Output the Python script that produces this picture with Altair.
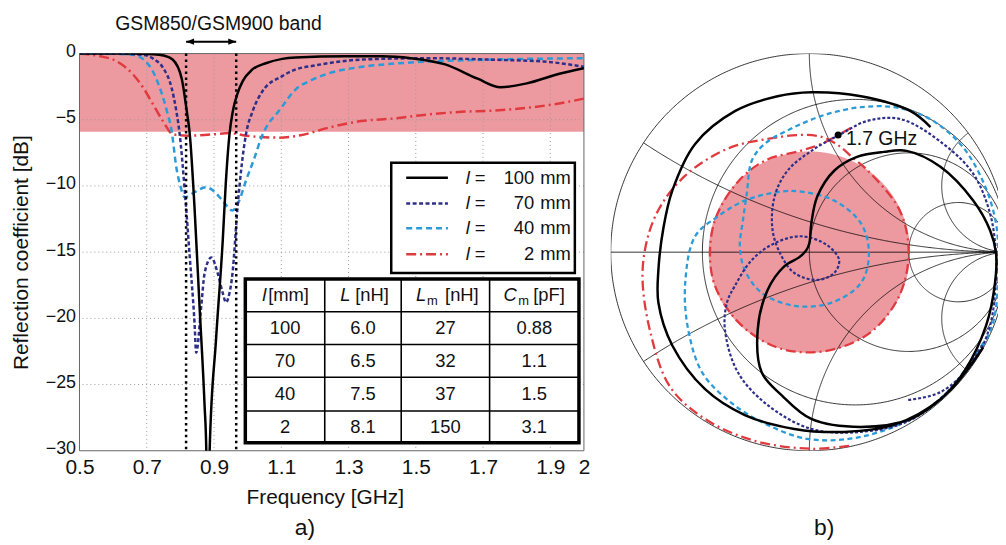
import altair as alt
import numpy as np
import pandas as pd

FONT = "Liberation Sans"
PINK = "#ec9aa0"
GRIDC = "#9a9a9a"
NAVY = "#2e2f88"
BLUE = "#2a9bd8"
RED = "#e03a3e"

# ---------------- panel a): reflection coefficient [dB] vs frequency [GHz] ----------------
f_100 = [0.50, 0.65, 0.72, 0.75, 0.777, 0.804, 0.819, 0.828, 0.842, 0.857, 0.872, 0.877, 0.882, 0.887,
         0.906, 0.926, 0.935, 0.946, 0.956, 0.97, 0.985, 1.014, 1.054, 1.103, 1.143, 1.29, 1.40, 1.486,
         1.585, 1.684, 1.752, 1.83, 1.93, 2.0]
s_100 = [0.0, 0.0, -0.05, -0.15, -0.45, -1.9, -4.35, -6.1, -11.6, -19.1, -26.6, -29.9, -40.0, -30.0,
         -21.6, -14.1, -9.8, -6.1, -4.35, -3.0, -2.1, -1.2, -0.73, -0.4, -0.3, -0.2, -0.2, -0.35,
         -0.8, -1.9, -2.55, -2.25, -1.5, -1.1]

f_70 = [0.50, 0.60, 0.69, 0.72, 0.749, 0.774, 0.788, 0.798, 0.813, 0.828, 0.842, 0.847, 0.862, 0.872,
        0.892, 0.911, 0.925, 0.936, 0.945, 0.955, 0.97, 0.995, 1.015, 1.044, 1.103, 1.143, 1.20, 1.26,
        1.34, 1.536, 1.733, 1.88, 1.95, 2.0]
s_70 = [0.0, 0.0, -0.1, -0.4, -1.1, -2.6, -4.35, -6.1, -10.35, -15.4, -20.3, -22.6, -19.1, -16.6,
        -15.4, -16.6, -18.0, -18.8, -18.2, -16.6, -11.6, -6.1, -4.35, -2.85, -1.7, -1.2, -0.9, -0.65,
        -0.45, -0.35, -0.47, -0.6, -0.8, -1.0]

f_40 = [0.50, 0.60, 0.66, 0.71, 0.739, 0.76, 0.774, 0.788, 0.80, 0.813, 0.84, 0.877, 0.90, 0.925,
        0.955, 0.975, 0.995, 1.02, 1.04, 1.10, 1.143, 1.19, 1.24, 1.34, 1.44, 1.54, 1.73, 2.0]
s_40 = [0.0, -0.02, -0.1, -1.0, -2.6, -4.35, -5.85, -8.6, -10.0, -10.85, -10.5, -10.1, -10.4, -11.1,
        -11.85, -11.1, -9.6, -7.9, -6.4, -4.1, -2.7, -2.0, -1.5, -1.0, -0.75, -0.6, -0.45, -0.35]

f_2 = [0.50, 0.562, 0.612, 0.66, 0.69, 0.719, 0.748, 0.778, 0.82, 0.90, 0.946, 0.995, 1.093, 1.161,
       1.24, 1.338, 1.437, 1.536, 1.635, 1.734, 1.83, 1.93, 2.0]
s_2 = [0.0, -0.2, -0.6, -1.6, -2.6, -3.85, -5.1, -6.1, -6.2, -6.1, -6.0, -6.2, -6.35, -6.15,
       -5.6, -5.1, -4.9, -4.6, -4.4, -4.3, -4.1, -3.75, -3.4]

X_TICKS = [0.5, 0.7, 0.9, 1.1, 1.3, 1.5, 1.7, 1.9, 2.0]
Y_TICKS = [0, -5, -10, -15, -20, -25, -30]
SHADE_DB = -5.9
BAND = [0.817, 0.966]
BAND_LABEL = "GSM850/GSM900 band"

LENGTHS = ["100", "70", "40", "2"]
TAB_L = ["100", "70", "40", "2"]
TAB_IND = ["6.0", "6.5", "7.5", "8.1"]
TAB_LM = ["27", "32", "37", "150"]
TAB_CM = ["0.88", "1.1", "1.5", "3.1"]

# ---------------- panel b): Smith chart, reflection coefficient (Re, Im) ----------------
sm100_re = [0.875, 0.70, 0.51, 0.26, 0.01, -0.14, -0.24, -0.26, -0.21, -0.125, -0.05, -0.015, 0.0, 0.01,
            0.04, 0.125, 0.24, 0.375, 0.49, 0.66, 0.825, 0.91, 0.94, 0.935, 0.89, 0.78, 0.66, 0.425,
            0.175, -0.075, -0.325, -0.525, -0.69, -0.76, -0.76, -0.735, -0.69, -0.575, -0.375, -0.16,
            0.01, 0.26, 0.51, 0.61]
sm100_im = [-0.48, -0.705, -0.84, -0.88, -0.84, -0.72, -0.605, -0.39, -0.19, -0.07, -0.025, 0.01, 0.045, 0.145,
            0.28, 0.41, 0.48, 0.505, 0.51, 0.43, 0.26, 0.11, -0.005, -0.155, -0.37, -0.6, -0.74, -0.87,
            -0.905, -0.89, -0.82, -0.69, -0.47, -0.255, -0.09, 0.12, 0.31, 0.545, 0.71, 0.785,
            0.805, 0.785, 0.71, 0.63]

sm70_re = [0.87, 0.71, 0.50, 0.26, 0.01, -0.21, -0.36, -0.425, -0.415, -0.375, -0.29, -0.175, -0.04, 0.09,
           0.15, 0.125, 0.04, -0.075, -0.14, -0.185, -0.175, -0.11, 0.01, 0.16, 0.29, 0.46, 0.675, 0.825,
           0.91, 0.94, 0.94, 0.91, 0.825, 0.66, 0.49]
sm70_im = [-0.47, -0.69, -0.85, -0.905, -0.89, -0.77, -0.605, -0.39, -0.255, -0.17, -0.04, 0.045, 0.08, 0.035,
           -0.04, -0.105, -0.14, -0.105, -0.02, 0.11, 0.28, 0.41, 0.51, 0.595, 0.66, 0.67, 0.545, 0.395,
           0.195, -0.005, -0.12, -0.37, -0.555, -0.705, -0.745]

sm40_re = [0.90, 0.70, 0.55, 0.26, -0.01, -0.24, -0.41, -0.54, -0.61, -0.625, -0.575, -0.46, -0.325, -0.14,
           -0.04, 0.125, 0.26, 0.30, 0.26, 0.11, -0.075, -0.24, -0.325, -0.35, -0.335, -0.315, -0.29, -0.225,
           -0.075, 0.09, 0.26, 0.425, 0.59, 0.76, 0.875, 0.94, 0.95, 0.925, 0.82, 0.70, 0.55, 0.41]
sm40_im = [-0.42, -0.70, -0.82, -0.93, -0.94, -0.855, -0.745, -0.605, -0.39, -0.155, 0.08, 0.18, 0.26, 0.305,
           0.305, 0.26, 0.145, -0.005, -0.155, -0.255, -0.27, -0.205, -0.09, 0.03, 0.155, 0.295, 0.46, 0.545,
           0.63, 0.695, 0.73, 0.73, 0.68, 0.545, 0.355, 0.145, -0.08, -0.355, -0.56, -0.70, -0.82, -0.88]

sm2_re = [0.20, 0.01, -0.275, -0.525, -0.70, -0.80, -0.84, -0.80, -0.725, -0.625, -0.51, -0.375, -0.21, -0.05,
          0.065, 0.15, 0.225, 0.29, 0.455, 0.50, 0.455, 0.325, 0.17, 0.0, -0.175, -0.355, -0.475, -0.50,
          -0.47, -0.355, -0.215, -0.045, 0.06, 0.145, 0.225]
sm2_im = [-0.975, -0.99, -0.95, -0.84, -0.68, -0.405, -0.105, 0.12, 0.27, 0.385, 0.47, 0.535, 0.57, 0.59,
          0.58, 0.535, 0.47, 0.415, 0.21, 0.0, -0.215, -0.39, -0.475, -0.505, -0.475, -0.355, -0.17, 0.0,
          0.175, 0.36, 0.465, 0.51, 0.545, 0.59, 0.635]

MARK_RE, MARK_IM = 0.145, 0.59
MARK_LABEL = "1.7 GHz"

R_CIRCLES = [0.0, 0.3, 1.0, 3.0]
X_ARCS = [0.3, 1.0, 3.0, -0.3, -1.0, -3.0]

# ---------------- layout of inset legend / table (in data units of panel a) ----------------
LEG_BOX = dict(f=1.427, f2=1.973, s=-8.25, s2=-16.58)
LEG_ROWS = [-9.375, -11.325, -13.2, -15.15]
LEG_SAMPLE = (1.4715, 1.5955)
LEG_COLS = dict(l=1.6486, eq=1.675, num=1.8524, mm=1.870)
TAB_XE = [0.9931, 1.2293, 1.4567, 1.7195, 1.9852]
TAB_YE = [-17.025, -19.5, -21.975, -24.45, -27.0, -29.4]
HEAD_SYM_X = [1.0433, 1.2757, 1.5010, 1.7610]
HEAD_UNIT_X = [1.061, 1.320, 1.5870, 1.8490]
HEAD_SUB_X = [1.5330, 1.8050]

STYLES = {
    "100": dict(color="black", dash=None, width=2.5),
    "70": dict(color=NAVY, dash=[4, 2.5], width=2.5),
    "40": dict(color=BLUE, dash=[6, 4], width=2.5),
    "2": dict(color=RED, dash=[10, 4, 2, 4], width=2.5),
}

XS = alt.Scale(domain=[0.5, 2.0], nice=False, zero=False)
YS = alt.Scale(domain=[-30, 0], nice=False, zero=False)


def X(field="f"):
    return alt.X(f"{field}:Q", scale=XS)


def Y(field="s"):
    return alt.Y(f"{field}:Q", scale=YS)


def line_kwargs(st):
    kw = dict(color=st["color"], strokeWidth=st["width"], strokeCap="butt")
    if st["dash"]:
        kw["strokeDash"] = st["dash"]
    return kw


x_axis = alt.Axis(values=X_TICKS, labelExpr="datum.value == 2 ? '2' : format(datum.value, '.1f')",
                  labelFontSize=21, labelFont=FONT, labelColor="#111111", labelPadding=6,
                  ticks=False, domain=False, grid=False, labelFlush=False, labelOverlap=False,
                  title="Frequency [GHz]", titleFontSize=21, titleFont=FONT, titleFontWeight="normal",
                  titleColor="#111111", titleX=247, titleY=53, titleBaseline="alphabetic", titleAlign="center")
y_axis = alt.Axis(values=Y_TICKS, labelFontSize=18, labelFont=FONT, labelColor="#111111", labelPadding=4,
                  labelOffset=-2, ticks=False, domain=False, grid=False, labelOverlap=False,
                  title="Reflection coefficient [dB]", titleFontSize=21, titleFont=FONT,
                  titleFontWeight="normal", titleColor="#111111", titleX=-58, titleY=200,
                  titleAngle=270, titleAlign="center", titleBaseline="middle")

layers = []
# shaded -6 dB region
layers.append(alt.Chart(pd.DataFrame({"f": [0.5], "f2": [2.0], "s": [0.0], "s2": [SHADE_DB]}))
              .mark_rect(color=PINK)
              .encode(x=alt.X("f:Q", scale=XS, axis=x_axis), x2="f2:Q",
                      y=alt.Y("s:Q", scale=YS, axis=y_axis), y2="s2:Q"))
# dotted grid
layers.append(alt.Chart(pd.DataFrame({"f": X_TICKS[1:-1]}))
              .mark_rule(color=GRIDC, strokeDash=[1, 3], strokeWidth=1).encode(x=X()))
layers.append(alt.Chart(pd.DataFrame({"s": Y_TICKS[1:-1]}))
              .mark_rule(color=GRIDC, strokeDash=[1, 3], strokeWidth=1).encode(y=Y()))
# frame
layers.append(alt.Chart(pd.DataFrame({"f": [0.5], "f2": [2.0], "s": [0.0], "s2": [-30.0]}))
              .mark_rect(fillOpacity=0, stroke="#666666", strokeWidth=1)
              .encode(x=X(), x2="f2:Q", y=Y(), y2="s2:Q"))
# curves
for key, f, s in [("2", f_2, s_2), ("40", f_40, s_40), ("70", f_70, s_70), ("100", f_100, s_100)]:
    layers.append(alt.Chart(pd.DataFrame({"f": f, "s": s}))
                  .mark_line(clip=True, interpolate="monotone", **line_kwargs(STYLES[key]))
                  .encode(x=X(), y=Y()))
# band limits
layers.append(alt.Chart(pd.DataFrame({"f": BAND}))
              .mark_rule(color="black", strokeDash=[2.5, 3.5], strokeWidth=2.5).encode(x=X()))
# band annotation (double arrow + label)
layers.append(alt.Chart(pd.DataFrame({"f": [BAND[0]], "f2": [BAND[1]]}))
              .mark_rule(color="black", strokeWidth=2).encode(x=X(), x2="f2:Q", y=alt.value(-12)))
layers.append(alt.Chart(pd.DataFrame({"f": [BAND[0]]}))
              .mark_point(shape="M 0 0 L 2 -0.8 L 2 0.8 Z", size=64, filled=True, color="black", opacity=1)
              .encode(x=X(), y=alt.value(-12)))
layers.append(alt.Chart(pd.DataFrame({"f": [BAND[1]]}))
              .mark_point(shape="M 0 0 L -2 -0.8 L -2 0.8 Z", size=64, filled=True, color="black", opacity=1)
              .encode(x=X(), y=alt.value(-12)))
layers.append(alt.Chart(pd.DataFrame({"t": [BAND_LABEL]}))
              .mark_text(font=FONT, fontSize=19.5, align="center", baseline="middle", color="#111111")
              .encode(x=alt.value(140), y=alt.value(-30), text="t:N"))
# panel label
layers.append(alt.Chart(pd.DataFrame({"t": ["a)"]}))
              .mark_text(font=FONT, fontSize=23, align="center", baseline="alphabetic", color="#111111")
              .encode(x=alt.value(227), y=alt.value(485), text="t:N"))

# legend box
layers.append(alt.Chart(pd.DataFrame([LEG_BOX]))
              .mark_rect(fill="white", stroke="black", strokeWidth=2.5)
              .encode(x=X(), x2="f2:Q", y=Y(), y2="s2:Q"))
for key, row in zip(LENGTHS, LEG_ROWS):
    layers.append(alt.Chart(pd.DataFrame({"f": [LEG_SAMPLE[0]], "f2": [LEG_SAMPLE[1]], "s": [row]}))
                  .mark_rule(**line_kwargs(STYLES[key])).encode(x=X(), x2="f2:Q", y=Y()))


def text_layer(f, s, t, size=18.5, align="center", style="normal", dy=0):
    return (alt.Chart(pd.DataFrame({"f": f, "s": s, "t": t}))
            .mark_text(font=FONT, fontSize=size, align=align, baseline="middle", fontStyle=style,
                       dy=dy, color="#111111")
            .encode(x=X(), y=Y(), text="t:N"))


n = len(LENGTHS)
layers.append(text_layer([LEG_COLS["l"]] * n, LEG_ROWS, ["l"] * n, align="left", style="italic"))
layers.append(text_layer([LEG_COLS["eq"]] * n, LEG_ROWS, ["="] * n, align="left"))
layers.append(text_layer([LEG_COLS["num"]] * n, LEG_ROWS, LENGTHS, align="right"))
layers.append(text_layer([LEG_COLS["mm"]] * n, LEG_ROWS, ["mm"] * n, align="left"))

# table
layers.append(alt.Chart(pd.DataFrame({"f": [TAB_XE[0]], "f2": [TAB_XE[-1]], "s": [TAB_YE[0]], "s2": [TAB_YE[-1]]}))
              .mark_rect(fill="white", stroke="black", strokeWidth=3.5)
              .encode(x=X(), x2="f2:Q", y=Y(), y2="s2:Q"))
layers.append(alt.Chart(pd.DataFrame({"f": TAB_XE[1:-1], "s": [TAB_YE[0]] * 3, "s2": [TAB_YE[-1]] * 3}))
              .mark_rule(color="black", strokeWidth=1.6).encode(x=X(), y=Y(), y2="s2:Q"))
layers.append(alt.Chart(pd.DataFrame({"s": TAB_YE[1:-1], "f": [TAB_XE[0]] * 4, "f2": [TAB_XE[-1]] * 4}))
              .mark_rule(color="black", strokeWidth=1.6).encode(y=Y(), x=X(), x2="f2:Q"))
col_c = [(a + b) / 2 for a, b in zip(TAB_XE[:-1], TAB_XE[1:])]
row_c = [(a + b) / 2 for a, b in zip(TAB_YE[:-1], TAB_YE[1:])]
cells_f, cells_s, cells_t = [], [], []
for ci, col in enumerate([TAB_L, TAB_IND, TAB_LM, TAB_CM]):
    for ri, v in enumerate(col):
        cells_f.append(col_c[ci])
        cells_s.append(row_c[ri + 1])
        cells_t.append(v)
layers.append(text_layer(cells_f, cells_s, cells_t))
hy = row_c[0]
layers.append(text_layer(HEAD_SYM_X, [hy] * 4, ["l", "L", "L", "C"], align="left", style="italic"))
layers.append(text_layer(HEAD_UNIT_X, [hy] * 4, ["[mm]", "[nH]", "[nH]", "[pF]"], align="left"))
layers.append(text_layer(HEAD_SUB_X, [hy] * 2, ["m", "m"], size=13, align="left", dy=6))

left = alt.layer(*layers).properties(width=508, height=400)

# ---------------- Smith chart ----------------
SX = alt.Scale(domain=[-1.0, 0.95], nice=False, zero=False)
SY = alt.Scale(domain=[-1.0, 1.0], nice=False, zero=False)


def GX():
    return alt.X("gr:Q", scale=SX, axis=None)


def GY():
    return alt.Y("gi:Q", scale=SY, axis=None)


grid_rows = []
gid = 0
tt = np.linspace(-np.pi / 2 + 1e-3, np.pi / 2 - 1e-3, 721)
for r in R_CIRCLES:
    z = r + 1j * np.tan(tt)
    g = (z - 1) / (z + 1)
    for k, v in enumerate(g):
        grid_rows.append({"id": gid, "k": k, "gr": v.real, "gi": v.imag})
    gid += 1
uu = np.linspace(0, np.pi / 2 - 1e-3, 401)
for xv in X_ARCS:
    z = np.tan(uu) + 1j * xv
    g = (z - 1) / (z + 1)
    for k, v in enumerate(g):
        grid_rows.append({"id": gid, "k": k, "gr": v.real, "gi": v.imag})
    gid += 1
grid_rows += [{"id": gid, "k": 0, "gr": -1.0, "gi": 0.0}, {"id": gid, "k": 1, "gr": 1.0, "gi": 0.0}]
grid_df = pd.DataFrame(grid_rows)

R6 = 10 ** (SHADE_DB / 20)
td = np.linspace(0, np.pi, 361)
disc_df = pd.DataFrame({"gr": R6 * np.cos(td), "gi": R6 * np.sin(td), "gi2": -R6 * np.sin(td)})

sm_layers = [
    alt.Chart(disc_df).mark_area(color=PINK, clip=True).encode(x=GX(), y=GY(), y2="gi2:Q"),
    alt.Chart(grid_df).mark_line(color="black", strokeWidth=0.8, clip=True)
    .encode(x=GX(), y=GY(), detail="id:N", order="k:Q"),
]
SM_STYLES = {
    "100": dict(color="black", dash=None, width=2.5),
    "70": dict(color=NAVY, dash=[3, 2], width=2.2),
    "40": dict(color=BLUE, dash=[5, 3.5], width=2.3),
    "2": dict(color=RED, dash=[10, 4, 2, 4], width=2.3),
}
for key, re_, im_ in [("2", sm2_re, sm2_im), ("40", sm40_re, sm40_im), ("70", sm70_re, sm70_im),
                      ("100", sm100_re, sm100_im)]:
    df = pd.DataFrame({"gr": re_, "gi": im_, "k": list(range(len(re_)))})
    sm_layers.append(alt.Chart(df).mark_line(clip=True, interpolate="catmull-rom", **line_kwargs(SM_STYLES[key]))
                     .encode(x=GX(), y=GY(), order="k:Q"))
mark_df = pd.DataFrame({"gr": [MARK_RE], "gi": [MARK_IM], "t": [MARK_LABEL]})
sm_layers.append(alt.Chart(mark_df).mark_circle(size=50, color="black", opacity=1).encode(x=GX(), y=GY()))
sm_layers.append(alt.Chart(mark_df).mark_text(font=FONT, fontSize=19.5, align="left", baseline="middle",
                                               dx=8, dy=4, color="#111111")
                 .encode(x=GX(), y=GY(), text="t:N"))
sm_layers.append(alt.Chart(pd.DataFrame({"t": ["b)"]}))
                 .mark_text(font=FONT, fontSize=23, align="center", baseline="alphabetic", color="#111111")
                 .encode(x=alt.value(215), y=alt.value(485), text="t:N"))

right = alt.layer(*sm_layers).properties(width=390, height=400)

chart = (alt.hconcat(left, right, spacing=21)
         .resolve_scale(x="independent", y="independent")
         .properties(padding={"left": 3, "top": 4, "right": 0, "bottom": 0})
         .configure(font=FONT)
         .configure_view(strokeWidth=0))

chart.save("out.html", embed_options={"renderer": "svg", "actions": False})
